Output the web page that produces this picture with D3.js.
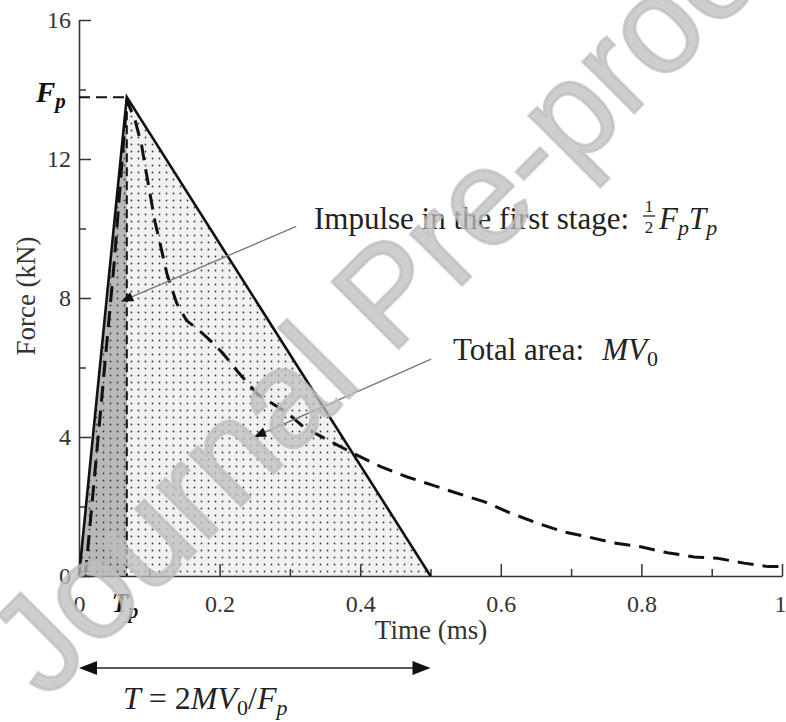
<!DOCTYPE html>
<html><head><meta charset="utf-8">
<script src="https://cdn.jsdelivr.net/npm/d3@7"></script>
<style>
html,body{margin:0;padding:0;background:#fff;}
svg{display:block;}
text{font-family:"Liberation Serif","Times New Roman",serif;}
text.wm{font-family:"Liberation Sans",Arial,sans-serif;}
</style></head><body>
<svg id="chart" width="786" height="722"></svg>
<script>
// ---- data ----
const xTicks = [0, 0.2, 0.4, 0.6, 0.8, 1];
const xTickLabels = ["0", "0.2", "0.4", "0.6", "0.8", "1"];
const xMinorTicks = [0.1, 0.3, 0.5, 0.7, 0.9];
const yTicks = [0, 4, 8, 12, 16];
const yTickLabels = ["0", "4", "8", "12", "16"];
const yMinorTicks = [2, 6, 10, 14];
const peakTime = 0.068;   // Tp (ms)
const peakForce = 13.78;  // Fp (kN)
const durationT = 0.5;    // T (ms)
const triangleTime = [0, peakTime, durationT];
const triangleForce = [0, peakForce, 0];
const measuredTime = [0.009, 0.03, 0.05, 0.06, 0.068, 0.08, 0.089, 0.094, 0.101, 0.108, 0.115, 0.125, 0.139, 0.153, 0.172, 0.191, 0.205, 0.225, 0.253, 0.276, 0.296, 0.32, 0.355, 0.39, 0.43, 0.467, 0.505, 0.538, 0.576, 0.614, 0.652, 0.69, 0.723, 0.761, 0.799, 0.837, 0.875, 0.908, 0.946, 0.98, 1.0];
const measuredForce = [0, 4.6, 9.0, 11.6, 13.7, 13.1, 12.4, 11.8, 11.0, 10.2, 9.6, 8.7, 7.85, 7.35, 7.05, 6.7, 6.4, 5.9, 5.25, 4.95, 4.7, 4.28, 3.9, 3.53, 3.14, 2.85, 2.6, 2.38, 2.14, 1.81, 1.52, 1.27, 1.13, 0.95, 0.84, 0.67, 0.55, 0.51, 0.37, 0.27, 0.27];
const xLabel = "Time (ms)";
const yLabel = "Force (kN)";
const impulseText = "Impulse in the first stage:";
const totalText = "Total area:";
const impulseArrow = {from: [0.309, 10.06], to: [0.06, 7.9]};
const totalArrow = {from: [0.501, 6.24], to: [0.249, 4.0]};
const watermarkText = "Journal Pre-proof";

// ---- setup ----
const svg = d3.select("#chart");
const x = d3.scaleLinear().domain([0, 1]).range([79, 782]);
const y = d3.scaleLinear().domain([0, 16]).range([576, 20]);

const defs = svg.append("defs");
const pat = defs.append("pattern").attr("id", "dots").attr("patternUnits", "userSpaceOnUse")
  .attr("width", 7).attr("height", 7).attr("x", 79).attr("y", 1);
pat.append("circle").attr("cx", 3.5).attr("cy", 3.5).attr("r", 0.9).attr("fill", "#3a3a3a");

const triPts = triangleTime.map((t, i) => [x(t), y(triangleForce[i])]);
const polyStr = pts => pts.map(p => p.join(",")).join(" ");

svg.append("polygon").attr("points", polyStr(triPts)).attr("fill", "#f1f1f1");
svg.append("polygon")
  .attr("points", polyStr([[x(0), y(0)], [x(peakTime), y(peakForce)], [x(peakTime), y(0)]]))
  .attr("fill", "#b8b8b8");
svg.append("polygon").attr("points", polyStr(triPts)).attr("fill", "url(#dots)");

// ---- axes ----
const fontTick = 24;
const gx = svg.append("g").attr("transform", `translate(0,${y(0)})`)
  .call(d3.axisBottom(x).tickValues(xTicks).tickFormat((d, i) => xTickLabels[i])
    .tickSizeInner(-12).tickSizeOuter(0).tickPadding(19));
const gxm = svg.append("g").attr("transform", `translate(0,${y(0)})`)
  .call(d3.axisBottom(x).tickValues(xMinorTicks).tickFormat("").tickSizeInner(-7).tickSizeOuter(0));
gxm.select(".domain").remove();
const gy = svg.append("g").attr("transform", `translate(${x(0)},0)`)
  .call(d3.axisLeft(y).tickValues(yTicks).tickFormat((d, i) => yTickLabels[i])
    .tickSizeInner(-12).tickSizeOuter(0).tickPadding(8));
const gym = svg.append("g").attr("transform", `translate(${x(0)},0)`)
  .call(d3.axisLeft(y).tickValues(yMinorTicks).tickFormat("").tickSizeInner(-7).tickSizeOuter(0));
gym.select(".domain").remove();
[gx, gxm, gy, gym].forEach(g => {
  g.selectAll(".domain").attr("stroke", "#333").attr("stroke-width", 1.6);
  g.selectAll(".tick line").attr("stroke", "#333").attr("stroke-width", 1.5);
  g.selectAll(".tick text").attr("font-size", fontTick).attr("fill", "#333");
});
gx.selectAll(".tick text").filter((d, i) => i === xTicks.length - 1).attr("text-anchor", "end").attr("dx", 4);

// axis titles
svg.append("text").attr("x", 431).attr("y", 639).attr("text-anchor", "middle")
  .attr("font-size", 27).attr("fill", "#333").text(xLabel);
svg.append("text").attr("transform", `translate(35,296) rotate(-90)`).attr("text-anchor", "middle")
  .attr("font-size", 27).attr("fill", "#333").text(yLabel);

// ---- guide dashed lines ----
svg.append("line").attr("x1", x(0)).attr("x2", x(peakTime)).attr("y1", y(peakForce)).attr("y2", y(peakForce))
  .attr("stroke", "#111").attr("stroke-width", 2).attr("stroke-dasharray", "11,6");
svg.append("line").attr("x1", x(peakTime)).attr("x2", x(peakTime)).attr("y1", y(peakForce)).attr("y2", y(0))
  .attr("stroke", "#111").attr("stroke-width", 2).attr("stroke-dasharray", "9,5");

// ---- triangle outline ----
const line = d3.line().x(d => x(d[0])).y(d => y(d[1]));
svg.append("path").datum(triangleTime.map((t, i) => [t, triangleForce[i]]))
  .attr("d", line).attr("fill", "none").attr("stroke", "#111").attr("stroke-width", 2.6);

// ---- measured curve ----
svg.append("path").datum(measuredTime.map((t, i) => [t, measuredForce[i]]))
  .attr("d", line).attr("fill", "none").attr("stroke", "#111").attr("stroke-width", 3)
  .attr("stroke-dasharray", "16,9");

// ---- annotation arrows ----
function arrow(a) {
  const x1 = x(a.from[0]), y1 = y(a.from[1]), x2 = x(a.to[0]), y2 = y(a.to[1]);
  svg.append("line").attr("x1", x1).attr("y1", y1).attr("x2", x2).attr("y2", y2)
    .attr("stroke", "#7a7a7a").attr("stroke-width", 1.4);
  const ang = Math.atan2(y2 - y1, x2 - x1) * 180 / Math.PI;
  svg.append("path").attr("d", "M0,0 L-12,-5 L-12,5 Z").attr("fill", "#111")
    .attr("transform", `translate(${x2},${y2}) rotate(${ang})`);
}
arrow(impulseArrow);
arrow(totalArrow);

// ---- annotation texts ----
const annSize = 31;
const t1 = svg.append("text").attr("x", 314).attr("y", 229).attr("font-size", annSize).attr("fill", "#222").text(impulseText);
const w1 = t1.node().getComputedTextLength();
const fx = 314 + w1 + 20;
svg.append("text").attr("x", fx).attr("y", 212).attr("text-anchor", "middle").attr("font-size", 17).attr("fill", "#222").text("1");
svg.append("line").attr("x1", fx - 6).attr("x2", fx + 6).attr("y1", 216).attr("y2", 216).attr("stroke", "#222").attr("stroke-width", 1.3);
svg.append("text").attr("x", fx).attr("y", 233).attr("text-anchor", "middle").attr("font-size", 17).attr("fill", "#222").text("2");
const m1 = svg.append("text").attr("x", fx + 10).attr("y", 229).attr("font-size", annSize).attr("fill", "#222").attr("font-style", "italic");
m1.append("tspan").text("F");
m1.append("tspan").attr("font-size", 22).attr("dy", 6).text("p");
m1.append("tspan").attr("dy", -6).text("T");
m1.append("tspan").attr("font-size", 22).attr("dy", 6).text("p");

const t2 = svg.append("text").attr("x", 453).attr("y", 360).attr("font-size", annSize).attr("fill", "#222").text(totalText);
const w2 = t2.node().getComputedTextLength();
const m2 = svg.append("text").attr("x", 453 + w2 + 18).attr("y", 360).attr("font-size", annSize).attr("fill", "#222");
m2.append("tspan").attr("font-style", "italic").text("MV");
m2.append("tspan").attr("font-size", 22).attr("dy", 6).text("0");

// peak labels
const fpL = svg.append("text").attr("x", 36).attr("y", 102).attr("font-size", 29).attr("font-weight", "bold").attr("font-style", "italic").attr("fill", "#111");
fpL.append("tspan").text("F");
fpL.append("tspan").attr("font-size", 21).attr("dy", 6).text("p");
const tpL = svg.append("text").attr("x", x(peakTime) - 15).attr("y", 612).attr("font-size", 27).attr("font-weight", "bold").attr("font-style", "italic").attr("fill", "#111");
tpL.append("tspan").text("T");
tpL.append("tspan").attr("font-size", 20).attr("dy", 6).text("p");

// ---- duration double arrow ----
const ay = 668, ax1 = x(0), ax2 = x(durationT);
svg.append("line").attr("x1", ax1 + 10).attr("x2", ax2 - 10).attr("y1", ay).attr("y2", ay).attr("stroke", "#222").attr("stroke-width", 1.4);
svg.append("path").attr("d", `M${ax1},${ay} L${ax1 + 18},${ay - 7} L${ax1 + 18},${ay + 7} Z`).attr("fill", "#111");
svg.append("path").attr("d", `M${ax2},${ay} L${ax2 - 18},${ay - 7} L${ax2 - 18},${ay + 7} Z`).attr("fill", "#111");
const f = svg.append("text").attr("x", 123).attr("y", 709).attr("font-size", 32).attr("fill", "#222");
f.append("tspan").attr("font-style", "italic").text("T");
f.append("tspan").text(" = 2");
f.append("tspan").attr("font-style", "italic").text("MV");
f.append("tspan").attr("font-size", 22).attr("dy", 6).text("0");
f.append("tspan").attr("dy", -6).text("/");
f.append("tspan").attr("font-style", "italic").text("F");
f.append("tspan").attr("font-style", "italic").attr("font-size", 22).attr("dy", 6).text("p");

// ---- watermark ----
svg.append("text").attr("class", "wm").attr("transform", "translate(46,701) rotate(-45)")
  .attr("font-size", 137).attr("fill", "#bdbdbd").attr("fill-opacity", 0.75)
  .attr("stroke", "#bdbdbd").attr("stroke-opacity", 0.75).attr("stroke-width", 3)
  .text(watermarkText);
</script>
</body></html>
